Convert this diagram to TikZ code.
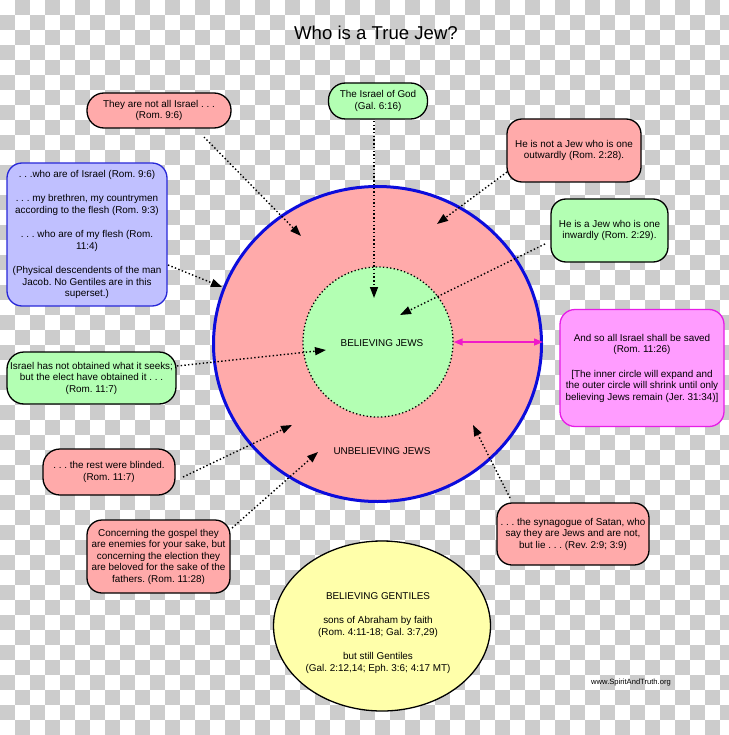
\documentclass[tikz,border=0pt]{standalone}
\usepackage{fontspec}
\setmainfont{Liberation Sans}
\usetikzlibrary{arrows.meta,shapes.geometric}
\definecolor{chk}{HTML}{CCCCCC}
\definecolor{pinkf}{HTML}{FFAAAA}
\definecolor{greenf}{HTML}{B3FFB3}
\definecolor{bluef}{HTML}{C0C0FF}
\definecolor{blueb}{HTML}{2828D8}
\definecolor{ringb}{HTML}{0C0CDC}
\definecolor{magf}{HTML}{FF9CFF}
\definecolor{magb}{HTML}{E61EE6}
\definecolor{magarrow}{HTML}{F01AC8}
\definecolor{yellowf}{HTML}{FFFFAA}
\begin{document}
\begin{tikzpicture}[x=1pt,y=-1pt,
  txt/.style={font=\frenchspacing\fontsize{9.9}{11.5}\selectfont, align=center, inner sep=0pt},
  box/.style={txt, draw=black, line width=1.3pt, rounded corners=15pt, anchor=center},
  pinkbox/.style={box, fill=pinkf},
  greenbox/.style={box, fill=greenf},
  ptr/.style={dash pattern=on 1.4pt off 2.3pt, line width=1.4pt, -{Triangle[length=11pt,width=8pt]}},
  dbl/.style={line width=1.4pt, draw=magarrow, {Triangle[length=9pt,width=7pt]}-{Triangle[length=9pt,width=7pt]}}
]
\useasboundingbox (0,0) rectangle (728,735);
% checkerboard background
\fill[white] (0,0) rectangle (728,735);
\foreach \j in {0,...,48} {
  \pgfmathtruncatemacro\s{mod(\j+1,2)}
  \foreach \i in {0,2,...,48} {
    \fill[chk] ({(\i+\s)*15},{\j*15}) rectangle ++(15,15);
  }
}
% title
\node[font=\fontsize{18.6}{21}\selectfont] (title) at (376,33) {Who is a True Jew?};
% circles
\node[ellipse, draw=ringb, line width=3pt, fill=pinkf, minimum width=328pt, minimum height=315pt, inner sep=0pt] (outer) at (377.5,344) {};
\node[circle, draw=black, dash pattern=on 1.3pt off 2.3pt, line width=1.3pt, fill=greenf, minimum size=150pt, inner sep=0pt] (inner) at (378,342) {};
\node[txt] (bj) at (382,343) {BELIEVING JEWS};
\node[txt] (uj) at (382,451) {UNBELIEVING JEWS};
\node[ellipse, draw=black, line width=1.3pt, fill=yellowf, minimum width=217pt, minimum height=170pt, inner sep=0pt] (yellow) at (382,626) {};
\node[txt] (bg) at (378,633) {BELIEVING GENTILES\\[13pt]sons of Abraham by faith\\(Rom. 4:11-18; Gal. 3:7,29)\\[13pt]but still Gentiles\\(Gal. 2:12,14; Eph. 3:6; 4:17 MT)};
% boxes
\node[pinkbox, rounded corners=17pt, minimum width=144pt, minimum height=35pt] (b1) at (159,110.5) {They are not all Israel . . .\\(Rom. 9:6)};
\node[greenbox, rounded corners=17pt, minimum width=99pt, minimum height=36pt] (b2) at (378,101) {The Israel of God\\(Gal. 6:16)};
\node[pinkbox, minimum width=134pt, minimum height=63pt] (b3) at (574,150.5) {He is not a Jew who is one\\outwardly (Rom. 2:28).};
\node[greenbox, minimum width=117pt, minimum height=63pt] (b4) at (609.5,230.5) {He is a Jew who is one\\inwardly (Rom. 2:29).};
\node[box, draw=blueb, fill=bluef, minimum width=160pt, minimum height=143pt] (b5) at (87,234.5) {. . .who are of Israel (Rom. 9:6)\\[13pt]. . . my brethren, my countrymen\\according to the flesh (Rom. 9:3)\\[13pt]. . . who are of my flesh (Rom.\\11:4)\\[13pt](Physical descendents of the man\\Jacob. No Gentiles are in this\\superset.)};
\node[greenbox, rounded corners=17pt, minimum width=169pt, minimum height=52pt] (b6) at (91.5,378) {Israel has not obtained what it seeks;\\but the elect have obtained it . . .\\(Rom. 11:7)};
\node[pinkbox, rounded corners=17pt, minimum width=132pt, minimum height=46pt] (b7) at (109,472) {. . . the rest were blinded.\\(Rom. 11:7)};
\node[pinkbox, minimum width=143pt, minimum height=73pt] (b8) at (158.5,556.5) {Concerning the gospel they\\are enemies for your sake, but\\concerning the election they\\are beloved for the sake of the\\fathers. (Rom. 11:28)};
\node[pinkbox, minimum width=152pt, minimum height=62pt] (b9) at (573,534) {. . . the synagogue of Satan, who\\say they are Jews and are not,\\but lie . . . (Rev. 2:9; 3:9)};
\node[box, draw=magb, fill=magf, minimum width=164pt, minimum height=117pt] (b10) at (642,368) {And so all Israel shall be saved\\(Rom. 11:26)\\[13pt][The inner circle will expand and\\the outer circle will shrink until only\\believing Jews remain (Jer. 31:34)]};
\node[font=\fontsize{7.6}{9}\selectfont, inner sep=0pt] (url) at (631,683) {www.SpiritAndTruth.org};
% connector end points
\coordinate (s1) at (204,137);  \coordinate (e1) at (301,236);
\coordinate (s2) at (374,121);  \coordinate (e2) at (374,298);
\coordinate (s3) at (507,172);  \coordinate (e3) at (437,224);
\coordinate (s4) at (545,244);  \coordinate (e4) at (400,315);
\coordinate (s5) at (168,265);  \coordinate (e5) at (222,287);
\coordinate (s6) at (177,366);  \coordinate (e6) at (326,350);
\coordinate (s7) at (183,477);  \coordinate (e7) at (292,425);
\coordinate (s8) at (232,528);  \coordinate (e8) at (318,452);
\coordinate (s9) at (510,498);  \coordinate (e9) at (473,425);
\foreach \k in {1,...,9} { \draw[ptr] (s\k) -- (e\k); }
\draw[dbl] (inner.east) -- (inner.east -| outer.east);
\end{tikzpicture}
\end{document}
